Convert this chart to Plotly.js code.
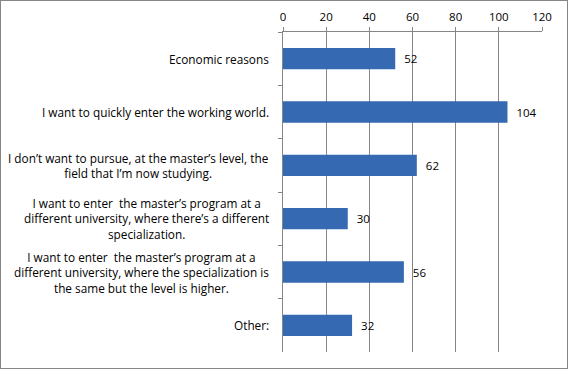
<!DOCTYPE html>
<html>
<head>
<meta charset="utf-8">
<script src="https://cdn.plot.ly/plotly-3.0.1.min.js"></script>
<style>
html,body{margin:0;padding:0;background:#fff;}
#chart{width:568px;height:369px;box-sizing:border-box;border:1px solid #868686;}
</style>
</head>
<body>
<div id="chart"></div>
<script>
var categories = [
  "Economic reasons",
  "I want to quickly enter the working world.",
  "I don’t want to pursue, at the master’s level, the<br>field that I’m now studying.",
  "I want to enter  the master’s program at a<br>different university, where there’s a different<br>specialization.",
  "I want to enter  the master’s program at a<br>different university, where the specialization is<br>the same but the level is higher.",
  "Other:"
];
var values = [52, 104, 62, 30, 56, 32];
var tickVals = [0, 20, 40, 60, 80, 100, 120];

var font = "Open Sans, Liberation Sans, Arial, sans-serif";

var trace = {
  type: "bar",
  orientation: "h",
  y: categories,
  x: values,
  marker: {color: "#3569b2"},
  text: values.map(function(v){ return "\u00a0\u00a0" + v; }),
  textposition: "outside",
  textfont: {family: font, size: 11.5, color: "#000"},
  cliponaxis: false,
  hoverinfo: "none"
};

var annotations = categories.map(function(c){
  return {
    xref: "paper", yref: "y", x: 0, y: c, xshift: -12,
    xanchor: "right", yanchor: "middle", align: "center",
    text: c, showarrow: false,
    font: {family: font, size: 11.8, color: "#000"}
  };
});

var layout = {
  width: 566, height: 367,
  margin: {l: 282, r: 25, t: 31, b: 16, pad: 0},
  paper_bgcolor: "#fff", plot_bgcolor: "#fff",
  showlegend: false,
  bargap: 0.6,
  xaxis: {
    side: "top", range: [0, 120], tickvals: tickVals,
    showgrid: true, gridcolor: "#868686", gridwidth: 1,
    showline: true, linecolor: "#868686", linewidth: 1,
    ticks: "outside", ticklen: 4, tickcolor: "#868686",
    ticklabelstandoff: 1,
    tickfont: {family: font, size: 11.5, color: "#000"},
    zeroline: false, fixedrange: true
  },
  yaxis: {
    type: "category", autorange: "reversed",
    showticklabels: false, tickson: "boundaries",
    ticks: "outside", ticklen: 4, tickcolor: "#868686",
    showline: true, linecolor: "#868686", linewidth: 1,
    showgrid: false, zeroline: false, fixedrange: true
  },
  annotations: annotations
};

Plotly.newPlot("chart", [trace], layout, {displayModeBar: false, staticPlot: true});
</script>
</body>
</html>
